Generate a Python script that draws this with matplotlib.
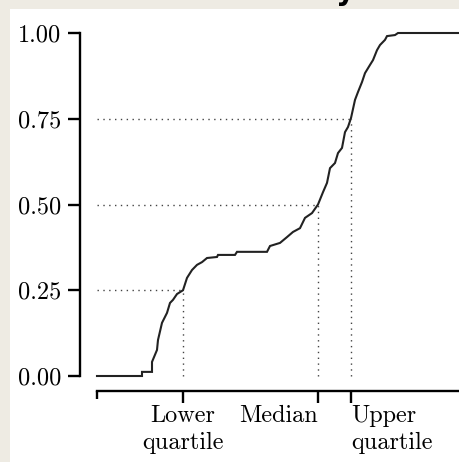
import matplotlib
matplotlib.use("Agg")
import matplotlib.pyplot as plt
from matplotlib.patches import Rectangle

# ---- data ----
curve_x = [0, 45, 45, 55, 55, 60, 61, 65, 70, 73, 76, 80, 86, 90, 95, 100, 105, 110,
           120, 121, 138, 140, 170, 173, 183, 190, 196, 203, 208, 215, 221, 226, 230,
           233, 238, 241, 245, 248, 251, 254, 258, 261, 265, 268, 273, 276, 280, 283,
           288, 290, 298, 301, 363]
curve_y = [0.0, 0.0, 0.012, 0.012, 0.041, 0.076, 0.105, 0.155, 0.184, 0.213, 0.222,
           0.239, 0.25, 0.286, 0.309, 0.324, 0.332, 0.344, 0.347, 0.353, 0.353, 0.362,
           0.362, 0.379, 0.388, 0.405, 0.420, 0.431, 0.461, 0.475, 0.50, 0.536, 0.563,
           0.606, 0.621, 0.650, 0.665, 0.711, 0.726, 0.752, 0.805, 0.828, 0.857, 0.883,
           0.907, 0.921, 0.950, 0.965, 0.980, 0.991, 0.994, 1.0, 1.0]
quartile_x = [86, 221, 254]
quartile_y = [0.25, 0.50, 0.75]
quartile_labels = ["Lower\nquartile", "Median", "Upper\nquartile"]
y_ticks = [0.0, 0.25, 0.5, 0.75, 1.0]
y_ticklabels = ["0.00", "0.25", "0.50", "0.75", "1.00"]
x_min = 0
x_max = 363

plt.rcParams["font.family"] = ["cmr10", "DejaVu Serif"]
plt.rcParams["axes.formatter.use_mathtext"] = True

W, H = 460, 462
fig = plt.figure(figsize=(W / 100, H / 100), dpi=100)
fig.patch.set_facecolor("#EEEBE3")
panel = Rectangle((10 / W, 0), 1, (H - 9) / H, transform=fig.transFigure,
                  facecolor="white", edgecolor="none", zorder=-10)
fig.patches.append(panel)

fig.text(355 / W, 1.0, "Cumulative Probability", ha="right", va="baseline",
         fontsize=21, fontweight="bold", family="DejaVu Sans", color="black")

ax = fig.add_axes([80 / W, (H - 391) / H, (W - 80) / W, (391 - 30) / H])
ax.set_zorder(5)
ax.patch.set_visible(False)
ax.set_xlim(-17, 363)
ax.set_ylim(-15 / 343, 346 / 343)

ax.plot(curve_x, curve_y, color="#222222", lw=1.5, solid_joinstyle="miter", zorder=3,
        clip_on=False)

for qx, qy in zip(quartile_x, quartile_y):
    ax.plot([x_min, qx], [qy, qy], color="#444444", lw=1.0, dashes=(1.0, 3.2), zorder=2)
    ax.plot([qx, qx], [0, qy], color="#444444", lw=1.0, dashes=(1.0, 3.2), zorder=2)

for s in ["top", "right"]:
    ax.spines[s].set_visible(False)
ax.spines["left"].set_bounds(0, 1)
ax.spines["bottom"].set_bounds(x_min, x_max)
for s in ["left", "bottom"]:
    ax.spines[s].set_linewidth(1.7)
    ax.spines[s].set_capstyle("projecting")

ax.set_yticks(y_ticks)
ax.set_yticklabels(y_ticklabels)
ax.set_xticks(quartile_x)
ax.set_xticklabels(quartile_labels, linespacing=1.3)
ax.set_xticks([x_min], minor=True)
ax.tick_params(axis="both", which="major", direction="out", length=8.6, width=1.7,
               labelsize=17.5, colors="black")
ax.tick_params(axis="y", pad=5)
ax.tick_params(axis="x", pad=1.5)
ax.tick_params(axis="x", which="minor", direction="out", length=5.8, width=1.7)

labs = ax.get_xticklabels()
labs[0].set_ha("center"); labs[0].set_multialignment("center")
labs[1].set_ha("right")
labs[2].set_ha("left"); labs[2].set_multialignment("left")

fig.savefig("out.png", dpi=100, facecolor=fig.get_facecolor())
